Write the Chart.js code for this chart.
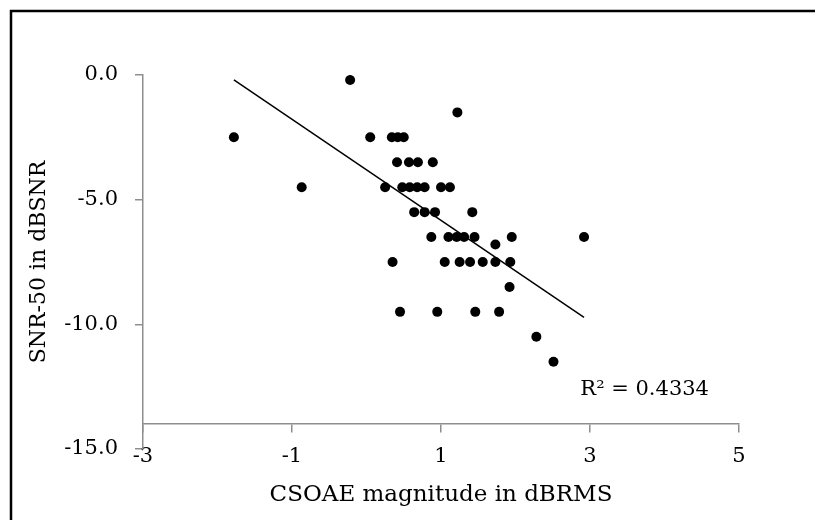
<!DOCTYPE html>
<html>
<head>
<meta charset="utf-8">
<script src="https://cdn.jsdelivr.net/npm/chart.js@4/dist/chart.umd.min.js"></script>
<style>
  html, body { margin: 0; padding: 0; background: #fff; }
  canvas { display: block; }
</style>
</head>
<body>
<canvas id="c" width="815" height="520"></canvas>
<script>
// CSOAE magnitude vs SNR-50 scatter with linear trendline (Excel-style)

const csoae = [
  -0.22,
  1.22,
  -1.78, 0.05, 0.34, 0.42, 0.50,
  0.41, 0.57, 0.69, 0.89,
  -0.87, 0.25, 0.48, 0.58, 0.68, 0.78, 1.00, 1.12,
  0.64, 0.78, 0.92, 1.42,
  0.87, 1.10, 1.21, 1.31, 1.45, 1.95, 2.92,
  1.73,
  0.35, 1.05, 1.25, 1.39, 1.56, 1.73, 1.93,
  1.92,
  0.45, 0.95, 1.46, 1.78,
  2.28,
  2.51,
];
const snr50 = [
  -0.2,
  -1.5,
  -2.5, -2.5, -2.5, -2.5, -2.5,
  -3.5, -3.5, -3.5, -3.5,
  -4.5, -4.5, -4.5, -4.5, -4.5, -4.5, -4.5, -4.5,
  -5.5, -5.5, -5.5, -5.5,
  -6.5, -6.5, -6.5, -6.5, -6.5, -6.5, -6.5,
  -6.8,
  -7.5, -7.5, -7.5, -7.5, -7.5, -7.5, -7.5,
  -8.5,
  -9.5, -9.5, -9.5, -9.5,
  -10.5,
  -11.5,
];

// trendline end points
const trendX = [-1.78, 2.92];
const trendY = [-0.2, -9.72];

const xTicks = [-3, -1, 1, 3, 5];
const yTicks = [0, -5, -10, -15];
const r2Text = 'R\u00B2 = 0.4334';

const FONT = '"DejaVu Serif", serif';
const AXIS_GREY = '#8e8e8e';

const points = csoae.map((x, i) => ({ x, y: snr50[i] }));
const trend = trendX.map((x, i) => ({ x, y: trendY[i] }));

const frame = {
  id: 'frame',
  beforeDraw(chart) {
    const ctx = chart.ctx;
    ctx.save();
    ctx.fillStyle = '#fff';
    ctx.fillRect(0, 0, chart.width, chart.height);
    ctx.strokeStyle = '#000';
    ctx.lineWidth = 2.5;
    ctx.strokeRect(11, 11, chart.width + 20, chart.height + 20);
    ctx.restore();
  },
  afterDatasetsDraw(chart) {
    const { ctx, scales: { x, y } } = chart;
    ctx.save();
    ctx.fillStyle = '#000';
    ctx.font = '21px ' + FONT;
    ctx.textBaseline = 'middle';
    ctx.textAlign = 'left';
    ctx.fillText(r2Text, x.getPixelForValue(2.87), y.getPixelForValue(-12.63));
    ctx.restore();
  },
};

new Chart(document.getElementById('c'), {
  data: {
    datasets: [
      { type: 'scatter', data: points, backgroundColor: '#000', borderWidth: 0,
        pointRadius: 5, pointHoverRadius: 5 },
      { type: 'line', data: trend, borderColor: '#000', borderWidth: 1.5,
        pointRadius: 0, fill: false, tension: 0 },
    ],
  },
  options: {
    responsive: false, animation: false,
    layout: { padding: { left: 0, top: 75, right: 76, bottom: 71 } },
    plugins: { legend: { display: false }, tooltip: { enabled: false } },
    scales: {
      x: {
        type: 'linear', min: -3, max: 5,
        position: { y: -14 },
        afterBuildTicks: s => { s.ticks = xTicks.map(v => ({ value: v })); },
        border: { color: AXIS_GREY, width: 1.5 },
        grid: { drawOnChartArea: false, color: AXIS_GREY, tickLength: 8, lineWidth: 1.5 },
        ticks: { color: '#000', font: { family: FONT, size: 21 }, padding: 12 },
        title: { display: true, text: 'CSOAE magnitude in dBRMS', color: '#000',
                 font: { family: FONT, size: 23 }, padding: { top: 0, bottom: 5 } },
      },
      y: {
        type: 'linear', min: -15, max: 0,
        afterBuildTicks: s => { s.ticks = yTicks.map(v => ({ value: v })); },
        afterFit: s => { s.width = 143; },
        border: { color: AXIS_GREY, width: 1.5 },
        grid: { drawOnChartArea: false, color: AXIS_GREY, tickLength: 8, lineWidth: 1.5 },
        ticks: { color: '#000', font: { family: FONT, size: 21 }, padding: 17,
                 callback: v => v.toFixed(1) },
        title: { display: true, text: 'SNR-50 in dBSNR', color: '#000',
                 font: { family: FONT, size: 22 }, padding: { top: 26, bottom: 0 } },
      },
    },
  },
  plugins: [frame],
});
</script>
</body>
</html>
